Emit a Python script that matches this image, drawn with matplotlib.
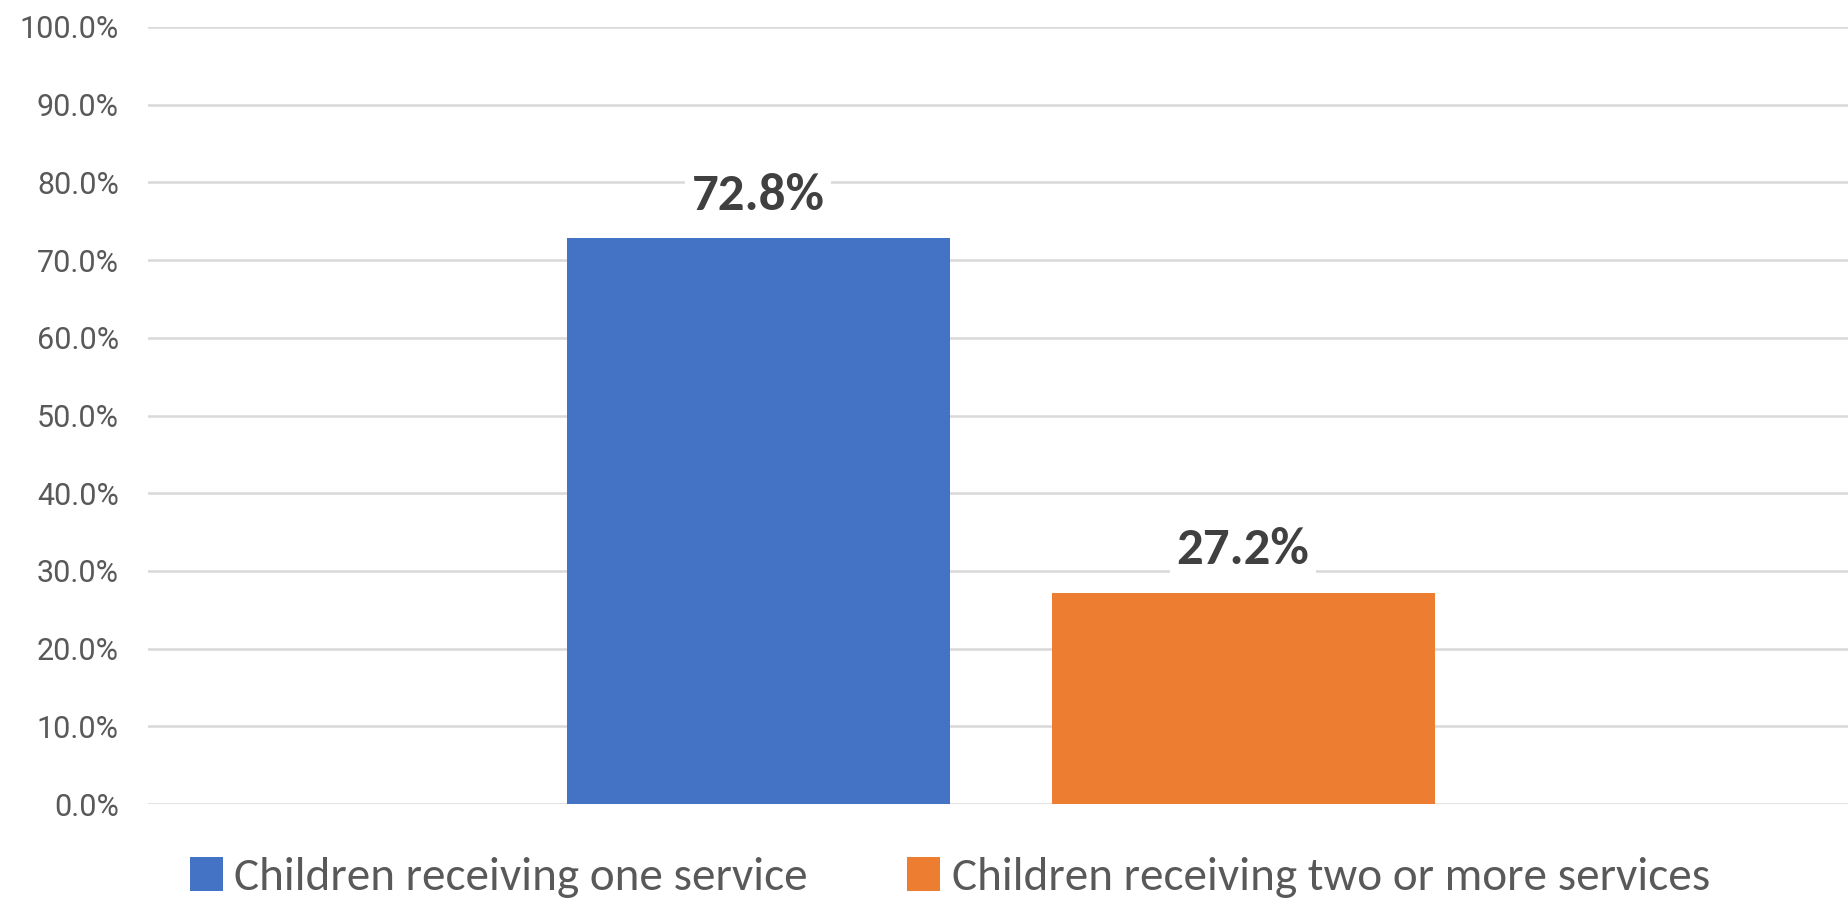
import matplotlib
matplotlib.use("Agg")
import matplotlib.pyplot as plt
from matplotlib import font_manager as fm

series_names = ["Children receiving one service", "Children receiving two or more services"]
values = [72.8, 27.2]
colors = ["#4472C4", "#ED7D31"]
yticks = [0, 10, 20, 30, 40, 50, 60, 70, 80, 90, 100]

def pick(fams):
    for f in fams:
        try:
            fm.findfont(f, fallback_to_default=False)
            return f
        except Exception:
            pass
    return "DejaVu Sans"

narrow = pick(["Carlito", "Calibri", "Liberation Sans Narrow", "Open Sans"])
body = pick(["Carlito", "Calibri", "Open Sans"])

W, H = 1848, 901
fig = plt.figure(figsize=(W / 100, H / 100), dpi=100)
ax = fig.add_axes([148 / W, 97 / H, 1 - 148 / W, (804 - 27) / H])

bw = 0.2253
gap = 0.06
shift = 0.0015
offsets = [-(bw + gap) / 2 + shift, (bw + gap) / 2 + shift]
for name, v, c, off in zip(series_names, values, colors, offsets):
    ax.bar(off, v, width=bw, color=c, label=name, zorder=3)
    ax.annotate(f"{v:.1f}%", (off, v), xytext=(0, 31), textcoords="offset points",
                ha="center", va="center", fontsize=38, fontweight="bold",
                color="#404040", family=body, zorder=5,
                bbox=dict(boxstyle="square,pad=0.12", fc="white", ec="none"))

ax.set_xlim(-0.5, 0.5)
ax.set_ylim(0, 100)
ax.set_yticks(yticks)
ax.set_yticklabels([f"{t:.1f}%" for t in yticks], fontsize=22, color="#595959", family="Roboto")
ax.tick_params(axis="y", length=0, pad=21)
ax.set_xticks([])
ax.grid(axis="y", color="#D9D9D9", linewidth=1.8, zorder=0)
for s in ax.spines.values():
    s.set_visible(False)

leg = fig.legend(loc="lower left", bbox_to_anchor=(147 / W, -40 / H), ncol=2, frameon=False,
                 prop=dict(family=narrow, size=34), labelcolor="#595959",
                 handlelength=0.7, handleheight=0.7, handletextpad=0.25, columnspacing=2.1)

fig.savefig("out.png", dpi=100, facecolor="white")
